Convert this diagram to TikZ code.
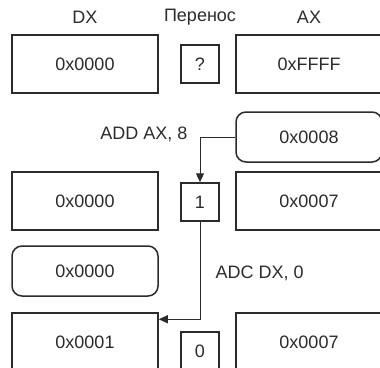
\documentclass[tikz,border=0pt]{standalone}
\usepackage{fontspec}
\setmainfont{Liberation Sans}
\usetikzlibrary{arrows.meta,positioning}
\definecolor{ink}{HTML}{2B2B2B}

\begin{document}
\begin{tikzpicture}[x=1pt,y=-1pt,
  every node/.style={text=ink,font=\fontsize{18}{21}\selectfont},
  reg/.style={draw=ink,line width=1.5pt,minimum width=146pt,minimum height=58pt,inner sep=0pt},
  opnd/.style={reg,rounded corners=10pt,minimum height=50pt},
  flag/.style={draw=ink,line width=1.5pt,minimum size=38pt,inner sep=0pt},
  a/.style={-{Triangle[length=9pt,width=8pt]},draw=ink,line width=1pt}
]
\useasboundingbox (0,0) rectangle (380,367);
\clip (0,0) rectangle (380,367);
% headers
\node (hdx) at (85,17) {DX};
\node (hc) at (200,17) {Перенос};
\node (hax) at (309,17) {AX};
% before ADD
\node[reg] (dx1) at (85,64) {0x0000};
\node[flag] (c1) at (200,64) {?};
\node[reg] (ax1) at (309,64) {0xFFFF};
\node[opnd] (op1) at (309,137) {0x0008};
\node[anchor=east] (i1) at (191,134) {ADD AX, 8};
% after ADD
\node[reg] (dx2) at (85,201) {0x0000};
\node[flag] (c2) at (200,202) {1};
\node[reg] (ax2) at (309,201) {0x0007};
\node[opnd] (op2) at (85,271) {0x0000};
\node[anchor=west] (i2) at (212,273) {ADC DX, 0};
% after ADC
\node[reg] (dx3) at (85,342) {0x0001};
\node[flag] (c3) at (200,351) {0};
\node[reg] (ax3) at (309,342) {0x0007};

\draw[a] (op1.west) -| (c2.north);
\draw[a] (c2.south) |- ([yshift=-7pt]dx3.north east);
\end{tikzpicture}
\end{document}
